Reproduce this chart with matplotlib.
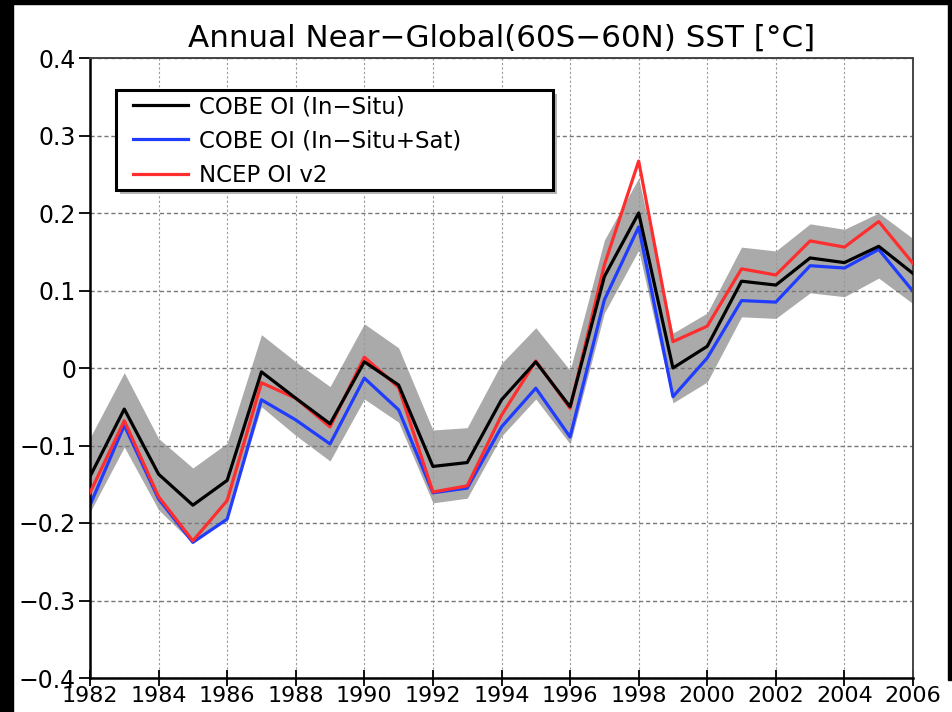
import numpy as np
import matplotlib as mpl
mpl.use('Agg')
import matplotlib.pyplot as plt
from matplotlib.patches import Rectangle

years = np.arange(1982, 2007)

# COBE OI (In-Situ)
cobe_insitu = [-0.140, -0.053, -0.137, -0.177, -0.145, -0.005, -0.039, -0.072, 0.008, -0.022,
               -0.127, -0.122, -0.041, 0.008, -0.050, 0.118, 0.200, 0.000, 0.028, 0.112,
               0.107, 0.142, 0.136, 0.157, 0.122]
# COBE OI (In-Situ+Sat)
cobe_sat = [-0.177, -0.074, -0.169, -0.225, -0.195, -0.041, -0.067, -0.098, -0.013, -0.054,
            -0.161, -0.155, -0.076, -0.026, -0.089, 0.088, 0.182, -0.037, 0.013, 0.087,
            0.085, 0.132, 0.129, 0.153, 0.099]
# NCEP OI v2
ncep = [-0.161, -0.068, -0.166, -0.223, -0.171, -0.019, -0.039, -0.076, 0.014, -0.025,
        -0.160, -0.152, -0.061, 0.009, -0.052, 0.133, 0.267, 0.034, 0.054, 0.128,
        0.120, 0.164, 0.156, 0.189, 0.135]
# gray uncertainty band
band_hi = [-0.090, -0.006, -0.091, -0.129, -0.097, 0.043, 0.008, -0.024, 0.057, 0.026,
           -0.080, -0.077, 0.006, 0.052, -0.003, 0.165, 0.245, 0.045, 0.071, 0.156,
           0.151, 0.186, 0.179, 0.200, 0.167]
band_lo = [-0.186, -0.102, -0.183, -0.226, -0.193, -0.050, -0.087, -0.120, -0.040, -0.070,
           -0.174, -0.168, -0.088, -0.040, -0.098, 0.071, 0.152, -0.045, -0.018, 0.066,
           0.064, 0.097, 0.092, 0.116, 0.083]

yticks = np.round(np.arange(-0.4, 0.41, 0.1), 1)
ylabels = ['\u22120.4', '\u22120.3', '\u22120.2', '\u22120.1', '0', '0.1', '0.2', '0.3', '0.4']
xticks = np.arange(1982, 2007, 2)

W, H = 953, 712
fig = plt.figure(figsize=(W/100, H/100), dpi=100, facecolor='w')
# black frame around the white page
fig.patches.append(Rectangle((0, 0), 13/W, 1, transform=fig.transFigure, color='k', zorder=-10))
fig.patches.append(Rectangle((0, 1-4/H), 1, 4/H, transform=fig.transFigure, color='k', zorder=-10))
fig.patches.append(Rectangle((948/W, 1-680/H), 5/W, 680/H, transform=fig.transFigure, color='k', zorder=-10))

ax = fig.add_axes([90/W, 1-678/H, (913-90)/W, (678-58)/H])
aw, ah = 823., 620.

ax.fill_between(years, band_lo, band_hi, color='#aaaaaa', lw=0, zorder=1)
ax.plot(years, cobe_insitu, color='k', lw=2.3, zorder=4, label='COBE OI (In\u2212Situ)')
ax.plot(years, cobe_sat, color='#1f3cff', lw=2.3, zorder=2, label='COBE OI (In\u2212Situ+Sat)')
ax.plot(years, ncep, color='#ff2e2e', lw=2.3, zorder=3, label='NCEP OI v2')

ax.set_xlim(1982, 2006)
ax.set_ylim(-0.4, 0.4)
ax.set_yticks(yticks)
ax.set_yticklabels(ylabels)
ax.set_xticks(xticks)
ax.tick_params(axis='y', direction='out', length=8, width=1.3, labelsize=17, pad=2)
ax.tick_params(axis='x', direction='inout', length=11, width=1.3, labelsize=16, pad=0)
ax.grid(axis='y', color='#777777', ls=(0, (3, 2)), lw=1.0)
ax.grid(axis='x', color='#999999', ls=(0, (2, 2)), lw=0.8)
for s in ['left', 'bottom']:
    ax.spines[s].set_linewidth(1.8)
for s in ['top', 'right']:
    ax.spines[s].set_linewidth(1.4)
    ax.spines[s].set_color('#444444')

# legend box with drop shadow, drawn by hand
bx0, bx1, by0, by1 = 116, 553, 90, 190
ax.add_patch(Rectangle(((bx0-90+4)/aw, (678-by1-4)/ah), (bx1-bx0)/aw, (by1-by0)/ah,
                       transform=ax.transAxes, facecolor='#b4b4b4', lw=0, zorder=6))
ax.add_patch(Rectangle(((bx0-90)/aw, (678-by1)/ah), (bx1-bx0)/aw, (by1-by0)/ah,
                       transform=ax.transAxes, facecolor='w', edgecolor='k', lw=2.2, zorder=7))
leg = ax.legend(loc='upper left', bbox_to_anchor=((133-90)/aw, (678-95)/ah),
                fontsize=16.5, frameon=False, borderpad=0, borderaxespad=0,
                handlelength=2.4, handletextpad=0.48, labelspacing=0.5)
leg.set_zorder(8)

ax.set_title('Annual Near\u2212Global(60S\u221260N) SST [\u00b0C]', fontsize=22.3, pad=8)

plt.savefig('out.png', dpi=100, facecolor=fig.get_facecolor())
